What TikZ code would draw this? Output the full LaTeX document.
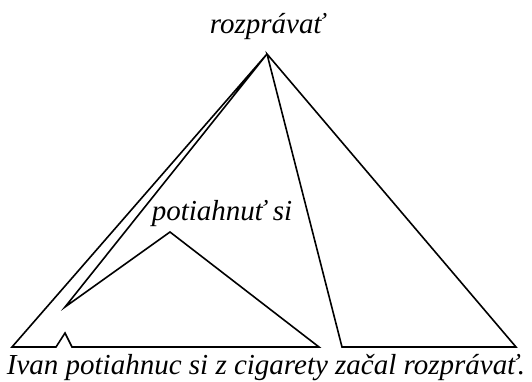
\documentclass[tikz,border=0pt]{standalone}
\usepackage{fontspec}
\setmainfont{Liberation Serif}
\begin{document}
\begin{tikzpicture}[x=1pt,y=-1pt,
  tri/.style={line width=1.6pt,line join=miter},
  lab/.style={font=\itshape\fontsize{29}{31}\selectfont,inner sep=0pt}]
\useasboundingbox (0,0) rectangle (532,381);
% coordinates
\coordinate (apex) at (267,54);
\coordinate (bl) at (12,347);
\coordinate (k1) at (56,347);
\coordinate (kp) at (65,333);
\coordinate (k2) at (72,347);
\coordinate (sbr) at (319,347);
\coordinate (sp) at (170,232);
\coordinate (stip) at (65,307);
\coordinate (mb) at (342,347);
\coordinate (br) at (516,347);
% left tree with subtree
\draw[tri] (apex) -- (bl) -- (k1) -- (kp) -- (k2) -- (sbr) -- (sp) -- (stip) -- (apex);
% right tree
\draw[tri] (apex) -- (mb) -- (br) -- cycle;
% labels
\node[lab] (top) at (267,27) {rozprávať};
\node[lab] (mid) at (222,214) {potiahnuť si};
\node[lab] (sent) at (266,368) {Ivan potiahnuc si z cigarety začal rozprávať.};
\end{tikzpicture}
\end{document}
